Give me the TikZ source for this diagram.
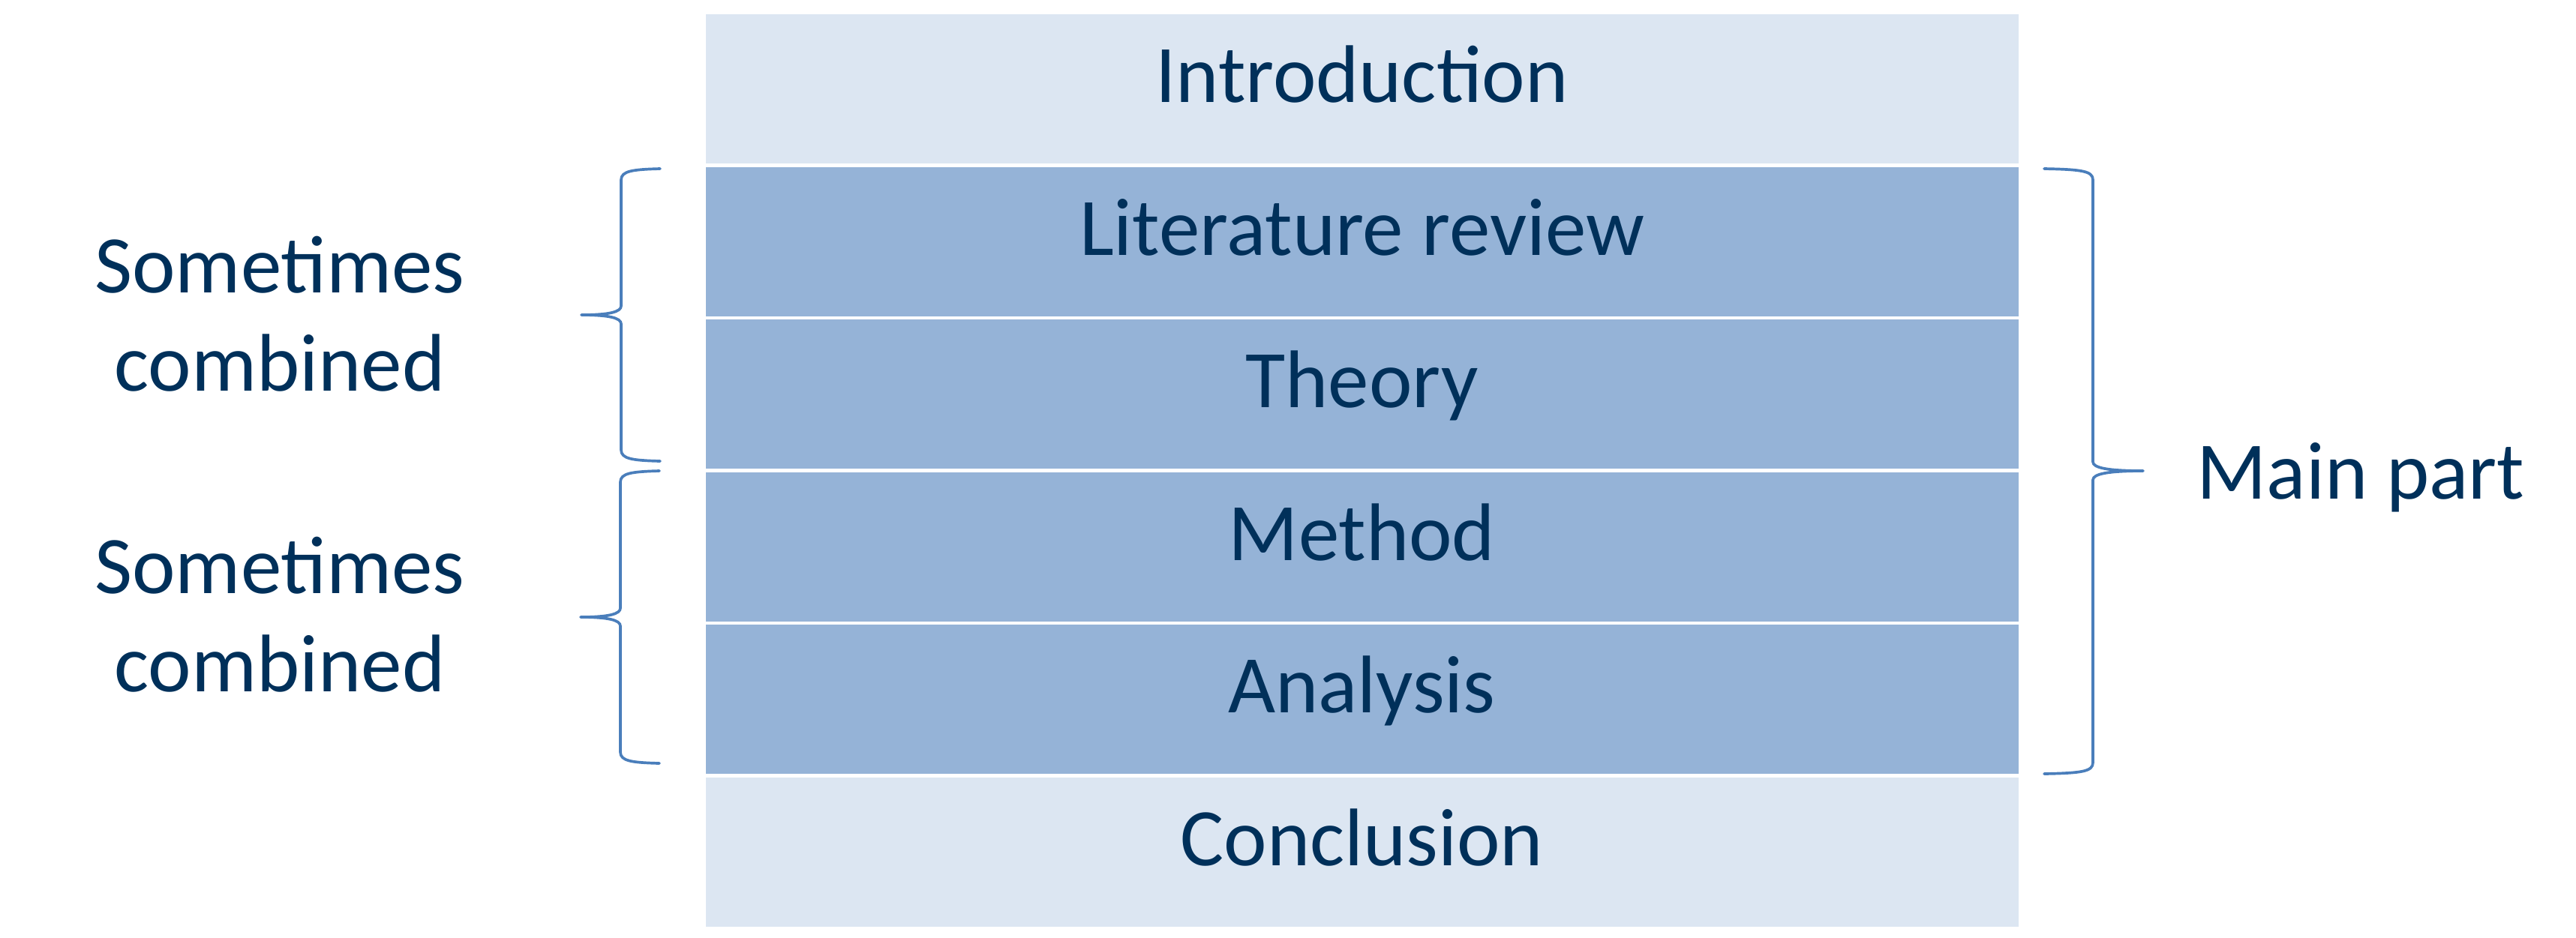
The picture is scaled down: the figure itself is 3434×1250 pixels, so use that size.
\documentclass[tikz,border=0pt]{standalone}
\usepackage{fontspec}
\setmainfont{Carlito}
\definecolor{lightsec}{HTML}{DCE6F2}
\definecolor{mainsec}{HTML}{95B3D7}
\definecolor{labeltext}{HTML}{00305A}
\definecolor{bracecol}{HTML}{4A7EBB}
\begin{document}
\begin{tikzpicture}[x=0.01cm,y=-0.01cm,
  section/.style={rectangle, inner sep=0pt, minimum width=17.49cm, minimum height=1.99cm,
    text height=20pt, text depth=9.76pt, text=labeltext,
    font=\fontsize{31}{37}\selectfont},
  light/.style={section, fill=lightsec},
  core/.style={section, fill=mainsec},
  sidetext/.style={text=labeltext, inner sep=0pt, align=center,
    font=\fontsize{31}{37}\selectfont},
  curly/.style={draw=bracecol, line width=1.05pt, line cap=round, line join=round}]
\useasboundingbox (0,0) rectangle (3434,1250);

% stacked sections of the thesis
\node[light] (intro) at (1815.5, 118.5) {Introduction};
\node[core]  (lit)   at (1815.5, 322.1) {Literature review};
\node[core]  (theo)  at (1815.5, 525.7) {Theory};
\node[core]  (meth)  at (1815.5, 729.3) {Method};
\node[core]  (anal)  at (1815.5, 932.9) {Analysis};
\node[light] (concl) at (1815.5, 1136.5) {Conclusion};

% left braces
\draw[curly] (880,225) .. controls (843,226) and (828,228) .. (828,240)
  -- (828,408) .. controls (828,416) and (812,420) .. (775,420)
  .. controls (812,420) and (828,424) .. (828,432)
  -- (828,600) .. controls (828,612) and (843,614) .. (880,615);
\draw[curly] (879,628) .. controls (842,629) and (827,631) .. (827,643)
  -- (827,811) .. controls (827,819) and (811,823) .. (774,823)
  .. controls (811,823) and (827,827) .. (827,835)
  -- (827,1003) .. controls (827,1015) and (842,1017) .. (879,1018);

% right brace
\draw[curly] (2725,225) .. controls (2775,226) and (2790,228) .. (2790,240)
  -- (2790,616) .. controls (2790,624) and (2810,628) .. (2857,628)
  .. controls (2810,628) and (2790,632) .. (2790,640)
  -- (2790,1017) .. controls (2790,1029) and (2775,1031) .. (2725,1032);

% side labels (base anchor sits on the last line)
\node[sidetext, anchor=base] (comb1) at (373,521) {Sometimes\\combined};
\node[sidetext, anchor=base] (comb2) at (373,922) {Sometimes\\combined};
\node[sidetext, anchor=base west] (mainpart) at (2928,665) {Main part};
\end{tikzpicture}
\end{document}
